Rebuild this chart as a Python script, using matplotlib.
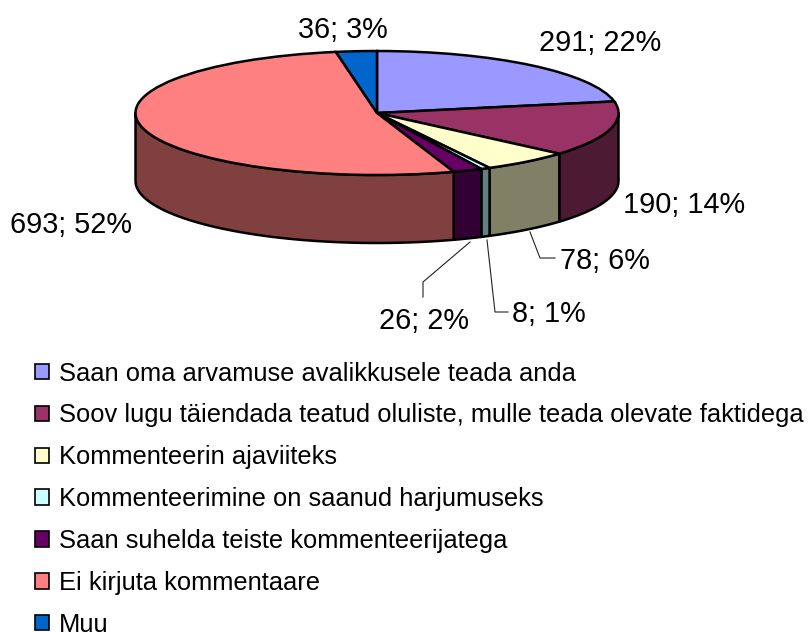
import numpy as np
import matplotlib
matplotlib.use("Agg")
import matplotlib.pyplot as plt
from matplotlib.patches import Patch

plt.rcParams["font.family"] = ["Liberation Sans", "DejaVu Sans"]

# chart data
categories = [
    "Saan oma arvamuse avalikkusele teada anda",
    "Soov lugu täiendada teatud oluliste, mulle teada olevate faktidega",
    "Kommenteerin ajaviiteks",
    "Kommenteerimine on saanud harjumuseks",
    "Saan suhelda teiste kommenteerijatega",
    "Ei kirjuta kommentaare",
    "Muu",
]
values = [291, 190, 78, 8, 26, 693, 36]
percents = [22, 14, 6, 1, 2, 52, 3]
top_colors = ["#9999FF", "#993366", "#FFFFCC", "#CCFFFF", "#660066", "#FF8080", "#0066CC"]
side_colors = ["#4D4D80", "#4D1A33", "#808066", "#668080", "#330033", "#804040", "#003366"]

# pie geometry in pixels of the 812x632 image
CX, CY = 377, 113
RX, RY = 241.5, 62
DEPTH = 68


def px(x, y):
    # image pixel -> axes data, where the pie is a unit circle
    return (x - CX) / RX, (CY - y) / RY


fig = plt.figure(figsize=(8.12, 6.32), dpi=100)
ax = fig.add_axes([0, 0, 1, 1])

# side wall, only the part facing the viewer
edges = np.cumsum([0] + values) / sum(values) * 2 * np.pi
dz = DEPTH / RY
for i in range(len(values)):
    a0 = max(edges[i], np.pi / 2)
    a1 = min(edges[i + 1], 3 * np.pi / 2)
    if a1 <= a0:
        continue
    t = np.linspace(a0, a1, 60)
    x = np.sin(t)
    y = np.cos(t)
    ax.fill(
        np.r_[x, x[::-1]],
        np.r_[y, y[::-1] - dz],
        facecolor=side_colors[i],
        edgecolor="black",
        linewidth=1.8,
        joinstyle="round",
    )

# the top face: stretched to an ellipse by the axis limits
ax.pie(
    values,
    colors=top_colors,
    startangle=90,
    counterclock=False,
    radius=1,
    wedgeprops={"edgecolor": "black", "linewidth": 1.8},
)
ax.set_aspect("auto")
ax.set_xlim(px(0, 0)[0], px(812, 0)[0])
ax.set_ylim(px(0, 632)[1], px(0, 0)[1])
ax.axis("off")

# data labels
label_pos = [(600, 43), (684, 205), (605, 261), (549, 314), (424, 321), (71, 225), (343, 30)]
for v, p, (lx, ly) in zip(values, percents, label_pos):
    ax.text(*px(lx, ly), f"{v}; {p}%", fontsize=20.8, ha="center", va="center", color="black")

# leader lines
leaders = [
    [(530, 232), (540, 258), (555, 258)],
    [(487, 240), (495, 312), (508, 312)],
    [(470, 242), (423, 282), (423, 297)],
]
for pts in leaders:
    xy = np.array([px(a, b) for a, b in pts])
    ax.plot(xy[:, 0], xy[:, 1], color="#222222", linewidth=0.8)

handles = [Patch(facecolor=c, edgecolor="black", linewidth=1.2) for c in top_colors]
ax.legend(
    handles,
    categories,
    loc="upper left",
    bbox_to_anchor=(35 / 812, 1 - 361.5 / 632),
    frameon=False,
    fontsize=18.4,
    labelspacing=0.70,
    handlelength=0.55,
    handleheight=0.55,
    handletextpad=0.39,
    borderpad=0,
    borderaxespad=0,
)

fig.savefig("out.png", dpi=100)
